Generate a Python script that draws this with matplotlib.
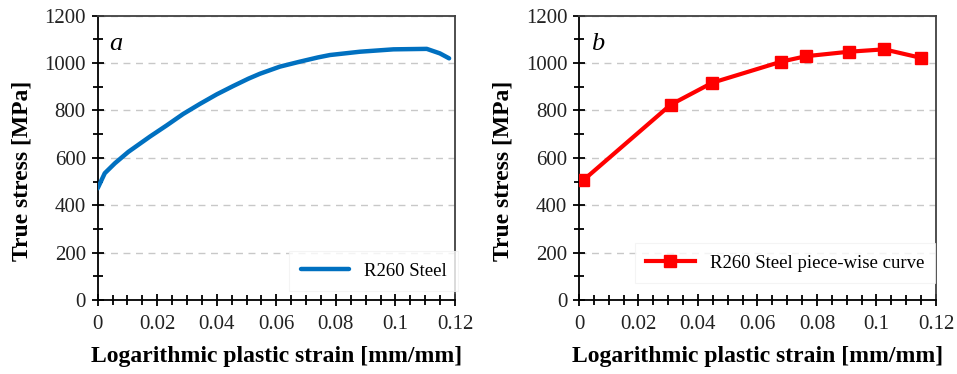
import numpy as np
import matplotlib.pyplot as plt
from matplotlib.ticker import MultipleLocator

# panel a: measured true stress-strain curve
strain_a = [0.0, 0.0024, 0.0058, 0.0103, 0.0176, 0.0232, 0.0287, 0.0344,
            0.040, 0.0455, 0.0506, 0.0545, 0.0612, 0.0679, 0.074, 0.078,
            0.0881, 0.0993, 0.1105, 0.1149, 0.118]
stress_a = [471, 535, 577, 625, 690, 737, 785, 828,
            868, 903, 934, 955, 985, 1006, 1024, 1034,
            1048, 1058, 1060, 1041, 1020]

# panel b: piece-wise curve points
strain_b = [0.0015, 0.0308, 0.0448, 0.068, 0.0763, 0.0908, 0.1026, 0.115]
stress_b = [506, 824, 917, 1006, 1029, 1048, 1058, 1022]

plt.rcParams['font.family'] = ['Liberation Serif', 'DejaVu Serif']

fig = plt.figure(figsize=(9.57, 3.74), dpi=100)
ax1 = fig.add_axes([0.102, 0.198, 0.3735, 0.76])
ax2 = fig.add_axes([0.605, 0.198, 0.373, 0.76])

ax1.plot(strain_a, stress_a, color='#0070C0', lw=3.2, label='R260 Steel',
         solid_capstyle='round', solid_joinstyle='round', zorder=3)
ax2.plot(strain_b, stress_b, color='#FF0000', lw=3.0, marker='s', ms=8.5,
         label='R260 Steel piece-wise curve', zorder=3)

legend_spots = {'a': (0.773, 0.102), 'b': (0.577, 0.13)}

for ax, tag in [(ax1, 'a'), (ax2, 'b')]:
    ax.set_xlim(0, 0.12)
    ax.set_ylim(0, 1200)
    ax.xaxis.set_minor_locator(MultipleLocator(0.005))
    ax.yaxis.set_major_locator(MultipleLocator(200))
    ax.yaxis.set_minor_locator(MultipleLocator(100))
    ax.set_xticks([0, 0.02, 0.04, 0.06, 0.08, 0.1, 0.12])
    ax.set_xticklabels(['0', '0.02', '0.04', '0.06', '0.08', '0.1', '0.12'])
    ax.tick_params(which='major', direction='inout', length=9, width=1.3,
                   labelsize=15, pad=4, labelcolor='#222222')
    ax.tick_params(axis='x', which='major', pad=6)
    ax.tick_params(which='minor', direction='inout', length=7, width=1.3)
    ax.grid(axis='y', which='major', color='#c8c8c8', ls=(0, (5, 4)), lw=1.0)
    for s in ax.spines.values():
        s.set_linewidth(1.3)
    ax.spines['top'].set_color('#404040')
    ax.spines['right'].set_color('#404040')
    ax.set_xlabel('Logarithmic plastic strain [mm/mm]', fontsize=17,
                  fontweight='bold', labelpad=9)
    ax.set_ylabel('True stress [MPa]', fontsize=17, fontweight='bold')
    ax.yaxis.set_label_coords(-0.183, 0.455)
    ax.text(0.004, 1080, tag, fontsize=19, style='italic', va='center')
    leg = ax.legend(loc='center', bbox_to_anchor=legend_spots[tag],
                    fontsize=13.5, frameon=True, fancybox=False,
                    handlelength=2.6, borderpad=0.6)
    leg.get_frame().set_edgecolor('#f2f2f2')
    leg.get_frame().set_linewidth(0.8)

fig.savefig('out.png', dpi=100)
